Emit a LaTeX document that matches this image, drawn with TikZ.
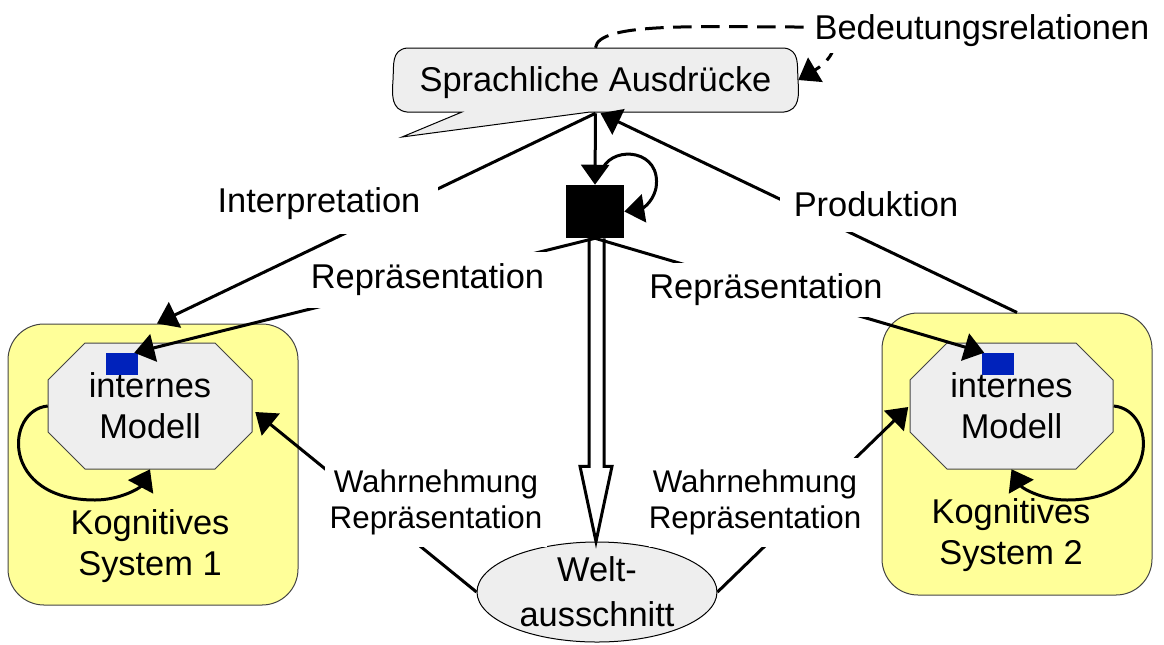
\documentclass[tikz,border=0pt]{standalone}
\usepackage{fontspec}
\setmainfont{Liberation Sans}
\usetikzlibrary{arrows.meta,calc,shapes.geometric}
\definecolor{kyellow}{HTML}{FFFF99}
\definecolor{kgray}{HTML}{EEEEEE}
\definecolor{kblue}{HTML}{0022BB}
\definecolor{kborder}{HTML}{444444}
\begin{document}
\begin{tikzpicture}[x=0.75pt,y=-0.75pt,
  bigtxt/.style={font=\fontsize{25.8pt}{31pt}\selectfont},
  smalltxt/.style={font=\fontsize{23.5pt}{27pt}\selectfont},
  conn/.style={line width=2.25pt},
  arr/.style={conn,-{Triangle[length=15pt,width=21pt]}},
  masklbl/.style={fill=white, inner sep=0pt, align=center},
  kbox/.style={draw=kborder, line width=0.75pt, fill=kyellow, rounded corners=27pt, inner sep=0pt},
  octfill/.style={draw=kborder, line width=0.75pt, fill=kgray},
  octtxt/.style={inner sep=0pt, align=center, bigtxt, minimum width=153pt, minimum height=94.5pt},
  bluesq/.style={fill=kblue, inner sep=0pt, minimum width=24pt, minimum height=16.5pt}]
\useasboundingbox (0,0) rectangle (1164,644);

% cognitive systems
\node[kbox, minimum width=217.5pt, minimum height=210.75pt] (kog1) at (153,464.5) {};
\node[kbox, minimum width=202.5pt, minimum height=211.5pt] (kog2) at (1017,454) {};
\path[octfill] (85,343) -- (215,343) -- (252,380) -- (252,432) -- (215,469) -- (85,469) -- (48,432) -- (48,380) -- cycle;
\path[octfill] (947,343) -- (1076,343) -- (1113,380) -- (1113,432) -- (1076,469) -- (947,469) -- (910,432) -- (910,380) -- cycle;
\node[octtxt] (oct1) at (150,406) {internes\\Modell};
\node[octtxt] (oct2) at (1011.5,406) {internes\\Modell};
\node[bluesq] (b1) at (122,364) {};
\node[bluesq] (b2) at (997.5,364) {};
\node[bigtxt, align=center] (kt1) at (150,546) {Kognitives\\System 1};
\node[bigtxt, align=center] (kt2) at (1011,535) {Kognitives\\System 2};

% callout
\path[draw=black, line width=0.75pt, fill=kgray]
  (407,48) -- (784,48) .. controls (800,50) and (797,65) .. (798,80)
  .. controls (799,95) and (800,110) .. (784,112) -- (590,112) -- (402,137)
  -- (462,112) -- (407,112) .. controls (391,110) and (392,95) .. (393,80)
  .. controls (394,65) and (391,50) .. (407,48) -- cycle;
\node[bigtxt, inner sep=0pt, minimum width=303.75pt, minimum height=45pt] (sa) at (595.5,83) {Sprachliche Ausdr\"ucke};

% black square and world
\node[fill=black, inner sep=0pt, minimum width=43.5pt, minimum height=39.75pt] (sq) at (595,211.5) {};
\node[draw=black, line width=0.75pt, ellipse, fill=kgray, inner sep=0pt, minimum width=180pt, minimum height=75pt, font=\fontsize{25.8pt}{33.5pt}\selectfont, align=center] (wa) at (597,592) {Welt-\\ausschnitt};

% hollow arrow
\draw[line width=2.25pt, fill=white, line join=miter]
  ($(sq.south)+(-6,0)$) -- ($(sq.south)+(-6,228)$) -- ($(sq.south)+(-15,228)$)
  -- ($(wa.north)+(-1,0)$) -- ($(sq.south)+(17,228)$) -- ($(sq.south)+(9,228)$)
  -- ($(sq.south)+(9,0)$);

% vertical arrow and loop on square
\draw[arr] (sa.south) -- (sq.north);
\coordinate (lp) at ($(sq.north)+(8,-17)$);
\draw[arr] (lp) .. controls (615,145) and (662,150) .. (656,188) .. controls (652,205) and (640,209) .. (sq.east);

% self loops of internal models
\draw[arr] (oct1.west) .. controls (5,410) and (0,500) .. (95,500) .. controls (120,500) and (140,488) .. (oct1.south);
\draw[arr] (oct2.east) .. controls (1157,410) and (1162,500) .. (1067,500) .. controls (1042,500) and (1022,488) .. (oct2.south);

% Repraesentation
\draw[arr] (sq.south) -- ($(b1.north east)+(-4,0)$);
\node[masklbl, bigtxt, minimum width=183.75pt, minimum height=42pt] (lrep1) at (427.5,280) {Repr\"asentation};
\draw[arr] (sq.south) -- ($(b2.north west)+(3,0)$);
\node[masklbl, bigtxt, minimum width=182.25pt, minimum height=40.5pt] (lrep2) at (766,290) {Repr\"asentation};

% Interpretation / Produktion
\draw[arr] (sa.south) -- ($(kog1.north)+(4,0)$);
\node[masklbl, bigtxt, minimum width=178.5pt, minimum height=45pt] (linterp) at (319,204) {Interpretation};
\draw[arr] (kog2.north) -- ($(sa.south)+(5,0)$);
\node[masklbl, bigtxt, minimum width=144pt, minimum height=42pt] (lprod) at (876,204) {Produktion};

% Wahrnehmung
\draw[arr] (wa.west) -- ($(oct1.east)+(3,6)$);
\node[masklbl, smalltxt, minimum width=166.5pt, minimum height=66.75pt] (lwahr1) at (436,502.5) {Wahrnehmung\\Repr\"asentation};
\draw[arr] (wa.east) -- ($(oct2.west)+(-1,1)$);
\node[masklbl, smalltxt, minimum width=157.5pt, minimum height=66.75pt] (lwahr2) at (755,502.5) {Wahrnehmung\\Repr\"asentation};

% Bedeutungsrelationen
\coordinate (bdc) at (800,27);
\draw[conn, dash pattern=on 14pt off 7pt, -{Triangle[length=15pt,width=21pt]}]
  ($(sa.north)+(0,-5)$) .. controls (598,22) and (700,27) .. (bdc) .. controls (845,27) and (840,55) .. ($(sa.east)+(0,-3)$);
\node[masklbl, bigtxt, minimum width=261pt, minimum height=33.75pt] (lbed) at (982,30.5) {Bedeutungsrelationen};
\end{tikzpicture}
\end{document}
